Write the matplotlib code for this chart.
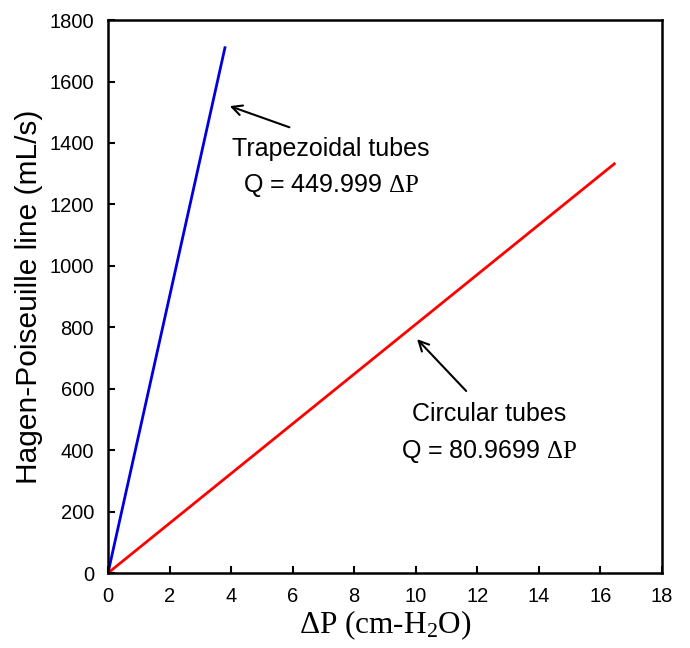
import matplotlib
matplotlib.use("Agg")
import matplotlib.pyplot as plt

plt.rcParams['font.family'] = ['Liberation Sans', 'DejaVu Sans']
plt.rcParams['mathtext.fontset'] = 'custom'
plt.rcParams['mathtext.rm'] = 'Liberation Serif'
plt.rcParams['mathtext.it'] = 'Liberation Serif:italic'

# Data
dp_trap = [0, 3.80]
q_trap = [0, 1710]
dp_circ = [0, 16.45]
q_circ = [0, 1332]

xticks = [0, 2, 4, 6, 8, 10, 12, 14, 16, 18]
yticks = [0, 200, 400, 600, 800, 1000, 1200, 1400, 1600, 1800]

fig = plt.figure(figsize=(6.9, 6.48), dpi=100)
ax = fig.add_axes([0.1565, 0.1157, 0.8029, 0.8533])

ax.plot(dp_trap, q_trap, color='#0000dd', lw=2)
ax.plot(dp_circ, q_circ, color='#ff0000', lw=2)

ax.set_xlim(0, 18)
ax.set_ylim(0, 1800)
ax.set_xticks(xticks)
ax.set_yticks(yticks)
ax.tick_params(direction='in', length=5, width=1.5, labelsize=14.5, pad=10)
for s in ax.spines.values():
    s.set_linewidth(1.8)

ax.set_ylabel('Hagen-Poiseuille line (mL/s)', fontsize=21.5, labelpad=5)
ax.set_xlabel('ΔP (cm-H$_2$O)', fontsize=22.5, family='Liberation Serif', labelpad=2)

arrow = dict(arrowstyle='->', color='black', lw=1.5, mutation_scale=18)
ax.annotate('', xy=(3.87, 1523), xytext=(5.98, 1448), arrowprops=arrow)
ax.annotate('', xy=(9.98, 768), xytext=(11.7, 586), arrowprops=arrow)

ax.text(7.25, 1380, 'Trapezoidal tubes', fontsize=18, ha='center', va='center')
ax.text(7.25, 1263, r'Q = 449.999 $\mathrm{\Delta P}$', fontsize=18, ha='center', va='center')
ax.text(12.39, 518, 'Circular tubes', fontsize=18, ha='center', va='center')
ax.text(12.39, 397, r'Q = 80.9699 $\mathrm{\Delta P}$', fontsize=18, ha='center', va='center')

fig.savefig('out.png', dpi=100)
